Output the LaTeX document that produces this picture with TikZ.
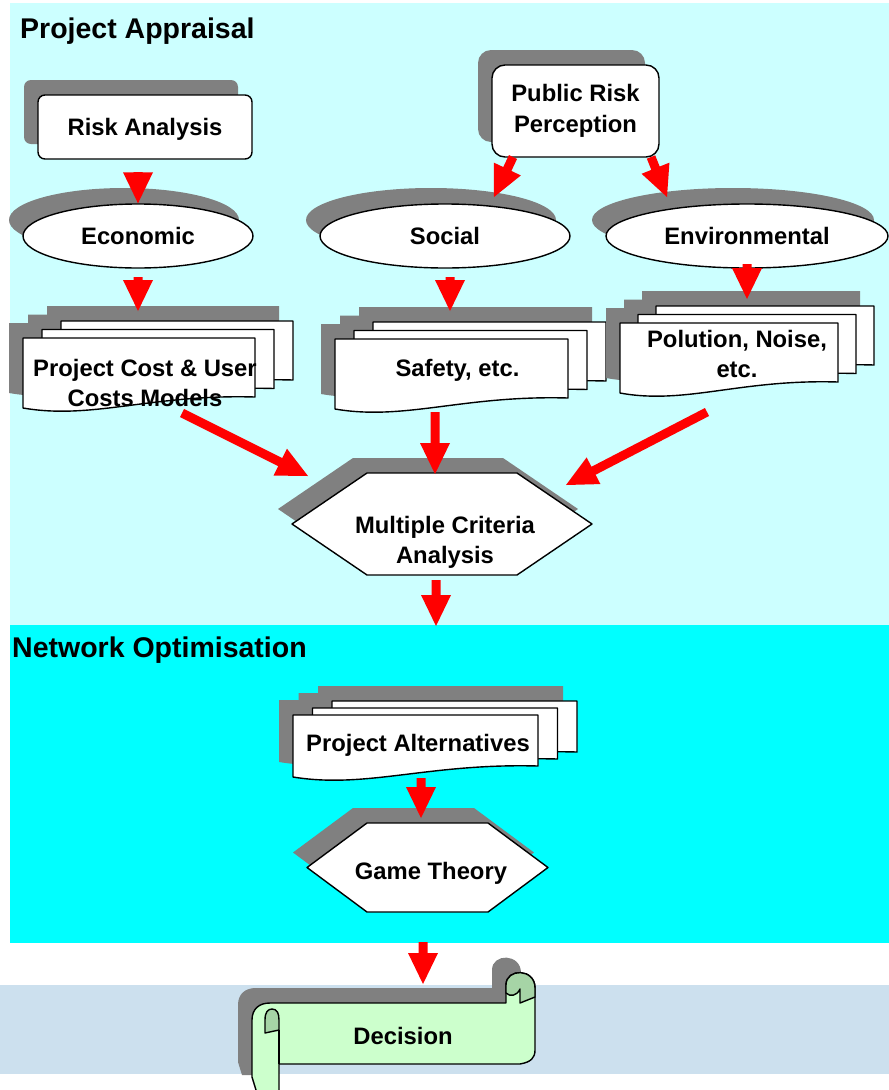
\documentclass[tikz,border=0pt]{standalone}
\usepackage{fontspec}
\setmainfont{Liberation Sans}
\usetikzlibrary{shapes.geometric,shadows,calc}
\definecolor{lcyan}{HTML}{CCFFFF}
\definecolor{bcyan}{HTML}{00FFFF}
\definecolor{bandblue}{HTML}{CCE0EE}
\definecolor{shgray}{HTML}{808080}
\definecolor{scrollg}{HTML}{CCFFCC}
\definecolor{curlg}{HTML}{A6D4A6}
\definecolor{arrred}{HTML}{FF0000}
\newcommand\redarrow[2]{%
  \fill[arrred] let \p1=(#1), \p2=(#2), \n1={atan2(\y2-\y1,\x2-\x1)} in
    ($(\p1)+(\n1+90:4.5pt)$) -- ($(\p2)+(\n1:-31pt)+(\n1+90:4.5pt)$) --
    ($(\p2)+(\n1:-31pt)+(\n1+90:15pt)$) -- (\p2) --
    ($(\p2)+(\n1:-31pt)+(\n1-90:15pt)$) -- ($(\p2)+(\n1:-31pt)+(\n1-90:4.5pt)$) --
    ($(\p1)+(\n1-90:4.5pt)$) -- cycle;}
\newcommand\docpath[4]{(#1,#2) -- ++(#3,0) -- ++(0,#4-11) .. controls +(-0.45*#3,-3) and +(0.3*#3,12) .. ++(-#3,11) -- cycle}
\newcommand\docstack[6]{%
  \begin{scope}[shift={(-14,-15)}]
    \fill[shgray] \docpath{#1+2*#5}{#2-2*#6}{#3}{#4};
    \fill[shgray] \docpath{#1+#5}{#2-#6}{#3}{#4};
    \fill[shgray] \docpath{#1}{#2}{#3}{#4};
  \end{scope}
  \draw[docline] \docpath{#1+2*#5}{#2-2*#6}{#3}{#4};
  \draw[docline] \docpath{#1+#5}{#2-#6}{#3}{#4};
  \draw[docline] \docpath{#1}{#2}{#3}{#4};}
\newcommand\hexpath[5]{(#1-#3,#2) -- (#1-#3+#5,#2-#4) -- (#1+#3-#5,#2-#4) -- (#1+#3,#2) -- (#1+#3-#5,#2+#4) -- (#1-#3+#5,#2+#4) -- cycle}
\newcommand\scrollpath{(256,1090) -- (252,1077) -- (252,1020) .. controls (252,1009) and (259,1003) .. (270,1003) -- (506,1003) -- (506,985) .. controls (506,968) and (535,968) .. (535,988) -- (535,1050) .. controls (535,1058) and (531,1062) .. (520,1064) -- (279,1064) -- (279,1090)}
\begin{document}
\begin{tikzpicture}[x=1pt,y=-1pt,
  txt/.style={font=\fontsize{23.8}{30.5}\selectfont\bfseries, align=center, inner sep=0pt},
  ttl/.style={font=\fontsize{28.5}{34}\selectfont\bfseries, inner sep=0pt, anchor=base west},
  outl/.style={draw=black, line width=1.4pt, line join=round},
  shad/.style={drop shadow={shadow xshift=-14pt, shadow yshift=#1, fill=shgray, opacity=1}},
  oval/.style={ellipse, outl, fill=white, shad=16pt, txt, text height=17pt, text depth=0pt},
  rbox/.style={rectangle, outl, fill=white, shad=15pt, txt},
  docline/.style={outl, fill=white},
]
\useasboundingbox (0,0) rectangle (889,1090);
\fill[white] (0,0) rectangle (889,1090);
\fill[lcyan] (10,3) rectangle (889,625);
\fill[bcyan] (10,625) rectangle (889,943);
\fill[bandblue] (0,985) rectangle (889,1074);

\node[ttl] (ttlA) at (20,38) {Project Appraisal};
\node[ttl] (ttlN) at (12,657) {Network Optimisation};

\node[rbox, rounded corners=7pt, minimum width=214pt, minimum height=64pt, text height=17pt, text depth=0pt] (risk) at (145,127) {Risk Analysis};
\node[rbox, rounded corners=13pt, minimum width=167pt, minimum height=92pt] (pub) at (575.5,111) {Public Risk\\Perception};

\node[oval, minimum width=230pt, minimum height=64pt] (econ) at (138,236) {Economic};
\node[oval, minimum width=250pt, minimum height=64pt] (soc) at (445,236) {Social};
\node[oval, minimum width=282pt, minimum height=64pt] (env) at (747,236) {Environmental};

\docstack{23}{338}{232}{70}{19}{8.5}
\docstack{335}{339}{233}{70}{19}{8.5}
\docstack{620}{323}{218}{70}{18}{8.5}
\docstack{293}{715}{245}{62}{19.5}{7}

\fill[shgray, shift={(-14,-15)}] \hexpath{442}{524}{150}{51}{75};
\draw[outl, fill=white] \hexpath{442}{524}{150}{51}{75};
\fill[shgray, shift={(-14,-15)}] \hexpath{427.5}{867.5}{120.5}{44.5}{60};
\draw[outl, fill=white] \hexpath{427.5}{867.5}{120.5}{44.5}{60};

\fill[shgray, shift={(-14,-15)}] \scrollpath;
\fill[scrollg] \scrollpath;
\draw[outl] \scrollpath;
\filldraw[outl, fill=curlg] (265,1033) -- (265,1020) .. controls (265,1012) and (268,1009) .. (272,1009) .. controls (277,1009) and (279,1013) .. (279,1020) -- (279,1030) -- cycle;
\draw[outl] (279,1030) -- (279,1064);
\filldraw[outl, fill=curlg] (506,993) -- (506,985) .. controls (506,968) and (535,968) .. (535,988) -- (535,997) -- (520,1003) -- (520,989) .. controls (517,996) and (510,997) .. (506,993) -- cycle;

\node[txt] (pcost) at (145,383) {Project Cost \& User\\Costs Models};
\node[txt, anchor=base] (safety) at (457.5,376) {Safety, etc.};
\node[txt] (polu) at (737,354) {Polution, Noise,\\etc.};
\node[txt] (mca) at (445,542.5) {Multiple Criteria\\Analysis};
\node[txt, anchor=base] (palt) at (418,751) {Project Alternatives};
\node[txt, anchor=base] (game) at (431,879) {Game Theory};
\node[txt, anchor=base] (dec) at (403,1044) {Decision};

\coordinate (a1s) at (138,172);
\coordinate (a2s) at (513,157); \coordinate (a2e) at (494,197);
\coordinate (a3s) at (651,157); \coordinate (a3e) at (667,197);
\coordinate (a4s) at (138,277); \coordinate (a4e) at (138,311);
\coordinate (a5s) at (450,277); \coordinate (a5e) at (450,311);
\coordinate (a6s) at (747,264); \coordinate (a6e) at (747,299);
\coordinate (a7s) at (182,413); \coordinate (a7e) at (308,476);
\coordinate (a8s) at (435,412); \coordinate (a8e) at (435,474);
\coordinate (a9s) at (707,412); \coordinate (a9e) at (566,485);
\coordinate (a10s) at (436,580); \coordinate (a10e) at (436,626);
\coordinate (a11s) at (421,778); \coordinate (a11e) at (421,818);
\coordinate (a12s) at (423,942); \coordinate (a12e) at (423,984);

\redarrow{a1s}{econ.north}
\redarrow{a2s}{a2e}
\redarrow{a3s}{a3e}
\redarrow{a4s}{a4e}
\redarrow{a5s}{a5e}
\redarrow{a6s}{a6e}
\redarrow{a7s}{a7e}
\redarrow{a8s}{a8e}
\redarrow{a9s}{a9e}
\redarrow{a10s}{a10e}
\redarrow{a11s}{a11e}
\redarrow{a12s}{a12e}
\end{tikzpicture}
\end{document}
